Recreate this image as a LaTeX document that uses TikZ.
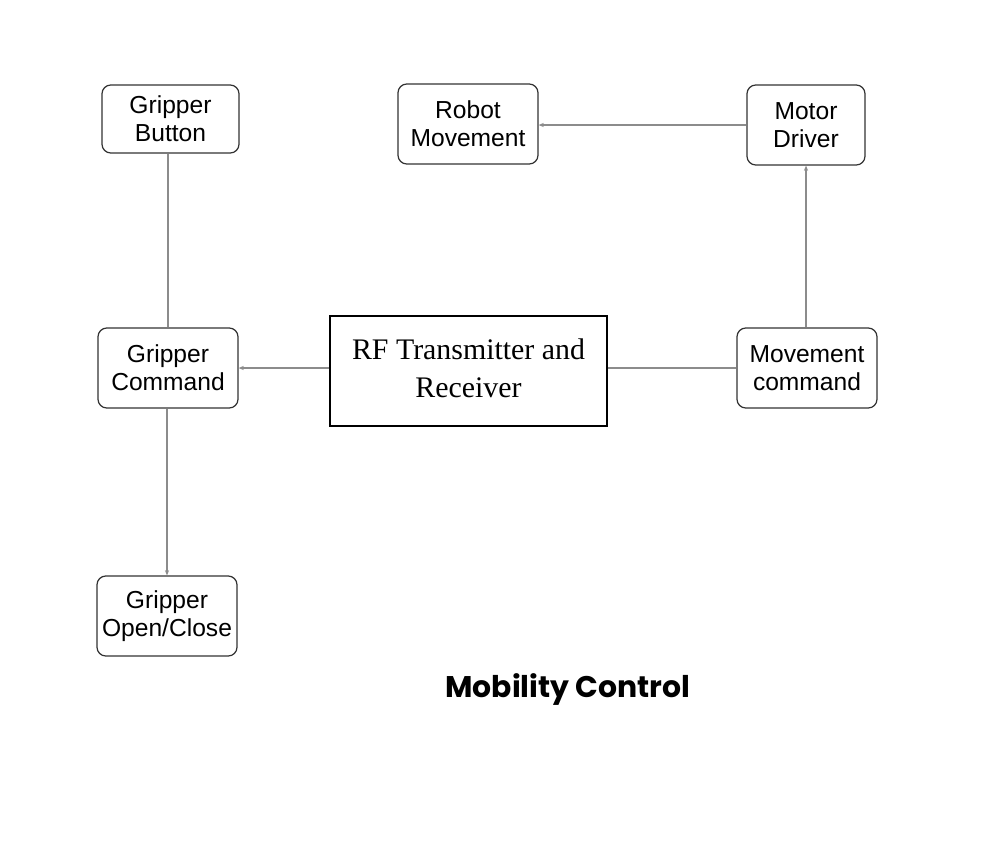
\documentclass[tikz,border=0pt]{standalone}
\usepackage{fontspec}
\setmainfont{Liberation Sans}
\newfontfamily\rffont{Liberation Serif}
\newfontfamily\titlefont{Poppins}
\usetikzlibrary{arrows.meta}

\begin{document}
\begin{tikzpicture}[x=0.02cm,y=-0.02cm,
    blk/.style={draw=black!80,rounded corners=5pt,line width=0.7pt,align=center,
      inner sep=0pt,font=\fontsize{14}{16}\selectfont},
    lnk/.style={draw=black!45,line width=0.6pt},
    arr/.style={lnk,-{Stealth[length=3pt,width=2.4pt]}}]
    \useasboundingbox (0,0) rectangle (994,843);
    \node[blk,minimum width=137*0.02cm,minimum height=68*0.02cm] (gbutton) at (170.5,119) {Gripper\\Button};
    \node[blk,minimum width=140*0.02cm,minimum height=80*0.02cm] (robmove) at (468,124) {Robot\\Movement};
    \node[blk,minimum width=118*0.02cm,minimum height=80*0.02cm] (motdrv) at (806,125) {Motor\\Driver};
    \node[blk,minimum width=140*0.02cm,minimum height=80*0.02cm] (gcmd) at (168,368) {Gripper\\Command};
    \node[draw,line width=0.9pt,align=center,inner sep=0pt,text depth=3.4pt,
      minimum width=277*0.02cm,minimum height=110*0.02cm,
      font=\rffont\fontsize{17}{21.5}\selectfont] (rf) at (468.5,371) {RF Transmitter and\\Receiver};
    \node[blk,minimum width=140*0.02cm,minimum height=80*0.02cm] (movcmd) at (807,368) {Movement\\command};
    \node[blk,minimum width=140*0.02cm,minimum height=80*0.02cm] (gopen) at (167,616) {Gripper\\Open/Close};
    \node[font=\titlefont\bfseries\fontsize{17}{20}\selectfont] (title) at (568,689) {Mobility Control};
    % connectors
    \draw[lnk] (gbutton.south -| gcmd.north) -- (gcmd.north);
    \draw[arr] (gcmd.south -| gopen.north) -- (gopen.north);
    \draw[arr] (rf.west |- gcmd.east) -- (gcmd.east);
    \draw[lnk] (movcmd.west) -- (rf.east |- movcmd.west);
    \draw[arr] (movcmd.north -| 806,0) -- (motdrv.south);
    \draw[arr] (motdrv.west) -- (robmove.east |- motdrv.west);
\end{tikzpicture}
\end{document}
